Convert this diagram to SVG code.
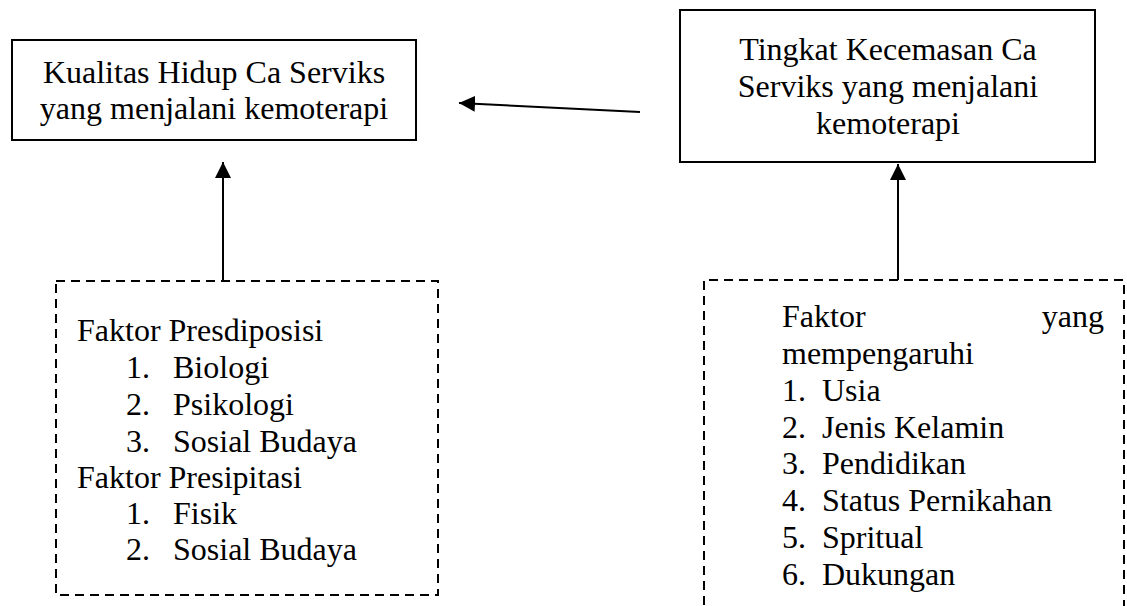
<svg xmlns="http://www.w3.org/2000/svg" width="1127" height="606" viewBox="0 0 1127 606" font-family="Liberation Serif, Times New Roman, serif">
<style>
text{font-size:32px;fill:#000}
.box{fill:#fff;stroke:#000;stroke-width:2}
.dash{fill:none;stroke:#000;stroke-width:2;stroke-dasharray:9 6}
.conn{stroke:#000;stroke-width:2;fill:none}
.c{text-anchor:middle}
</style>
<defs>
<marker id="ah" markerUnits="userSpaceOnUse" markerWidth="18" markerHeight="16" refX="16" refY="8" orient="auto">
<path d="M0,0 L16,8 L0,16 Z" fill="#000"/>
</marker>
</defs>
<rect width="1127" height="606" fill="#fff"/>
<g id="connectors">
<line class="conn" x1="223" y1="281" x2="223" y2="162" marker-end="url(#ah)"/>
<line class="conn" x1="898" y1="280" x2="898" y2="164" marker-end="url(#ah)"/>
<line class="conn" x1="640" y1="112" x2="459" y2="103" marker-end="url(#ah)"/>
</g>
<g id="kualitas" font-family="Liberation Serif, serif">
<rect class="box" x="12" y="40" width="404" height="100"/>
<text class="c" x="214" y="83" style="font-family:'Liberation Serif'">Kualitas Hidup Ca Serviks</text>
<text class="c" x="214" y="119" style="font-family:'Liberation Serif'">yang menjalani kemoterapi</text>
</g>
<g id="kecemasan" font-family="Liberation Serif, serif">
<rect class="box" x="680" y="10" width="415" height="152"/>
<text class="c" x="888" y="60">Tingkat Kecemasan Ca</text>
<text class="c" x="888" y="97">Serviks yang menjalani</text>
<text class="c" x="888" y="134">kemoterapi</text>
</g>
<g id="faktor-kualitas" font-family="Liberation Serif, serif">
<rect class="dash" x="56" y="281" width="382" height="314"/>
<text x="77" y="341">Faktor Presdiposisi</text>
<text x="126" y="378">1.</text><text x="173" y="378">Biologi</text>
<text x="126" y="415">2.</text><text x="173" y="415">Psikologi</text>
<text x="126" y="452">3.</text><text x="173" y="452">Sosial Budaya</text>
<text x="77" y="488">Faktor Presipitasi</text>
<text x="126" y="524">1.</text><text x="173" y="524">Fisik</text>
<text x="126" y="560">2.</text><text x="173" y="560">Sosial Budaya</text>
</g>
<g id="faktor-kecemasan" font-family="Liberation Serif, serif">
<path class="dash" d="M704,620 L704,280 L1124,280 L1124,620"/>
<text x="782" y="327">Faktor</text>
<text x="1104" y="327" text-anchor="end">yang</text>
<text x="782" y="364">mempengaruhi</text>
<text x="782" y="401">1.</text><text x="822" y="401">Usia</text>
<text x="782" y="438">2.</text><text x="822" y="438">Jenis Kelamin</text>
<text x="782" y="474">3.</text><text x="822" y="474">Pendidikan</text>
<text x="782" y="511">4.</text><text x="822" y="511">Status Pernikahan</text>
<text x="782" y="548">5.</text><text x="822" y="548">Spritual</text>
<text x="782" y="585">6.</text><text x="822" y="585">Dukungan</text>
</g>
</svg>
